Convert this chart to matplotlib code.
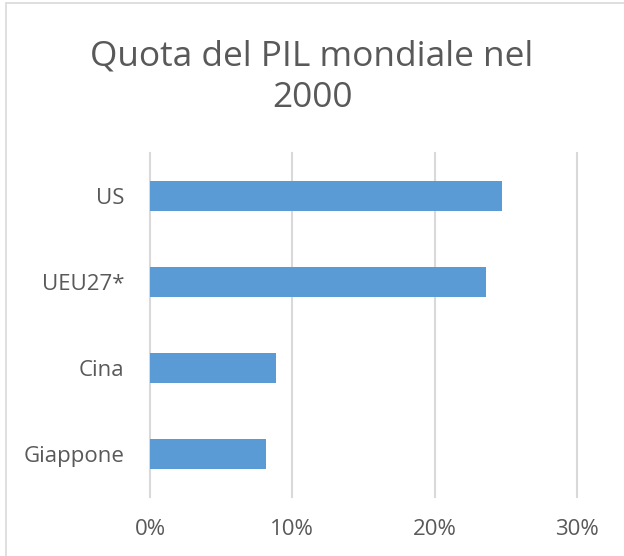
import matplotlib.pyplot as plt
from matplotlib.patches import Rectangle
from matplotlib.ticker import PercentFormatter

paesi = ['Giappone', 'Cina', 'UEU27*', 'US']
quota = [0.0816, 0.0888, 0.2358, 0.247]
ticks_x = [0, 0.1, 0.2, 0.3]

grigio = '#595959'
plt.rcParams['font.family'] = ['Open Sans', 'DejaVu Sans']

fig = plt.figure(figsize=(6.24, 5.56), dpi=100)
ax = fig.add_axes([150/624, 1 - 497/556, 427/624, 344/556])

ax.barh(range(len(paesi)), quota, height=0.35, color='#5B9BD5', zorder=2)

ax.set_xlim(0, 0.3)
ax.set_ylim(-0.5, len(paesi) - 0.5)
ax.set_xticks(ticks_x)
ax.xaxis.set_major_formatter(PercentFormatter(1.0, decimals=0))
ax.set_yticks(range(len(paesi)))
ax.set_yticklabels(paesi)
ax.tick_params(length=0, labelsize=16, colors=grigio)
ax.tick_params(axis='x', pad=16)
ax.tick_params(axis='y', pad=18.5)
ax.grid(axis='x', color='#D9D9D9', linewidth=1.5, zorder=0)
for gl in ax.get_xgridlines():
    gl.set_clip_on(False)
for s in ax.spines.values():
    s.set_visible(False)

fig.text(0.5, 1 - 77.5/556, 'Quota del PIL mondiale nel\n2000', ha='center', va='center',
         fontsize=25.4, color=grigio, linespacing=1.3)

# cornice del grafico
fig.patches.append(Rectangle((6/624, -0.1), 1.2, 1 - 3/556 + 0.1, transform=fig.transFigure,
                             fill=False, edgecolor='#D9D9D9', linewidth=1.2))

fig.savefig('out.png', dpi=100)
